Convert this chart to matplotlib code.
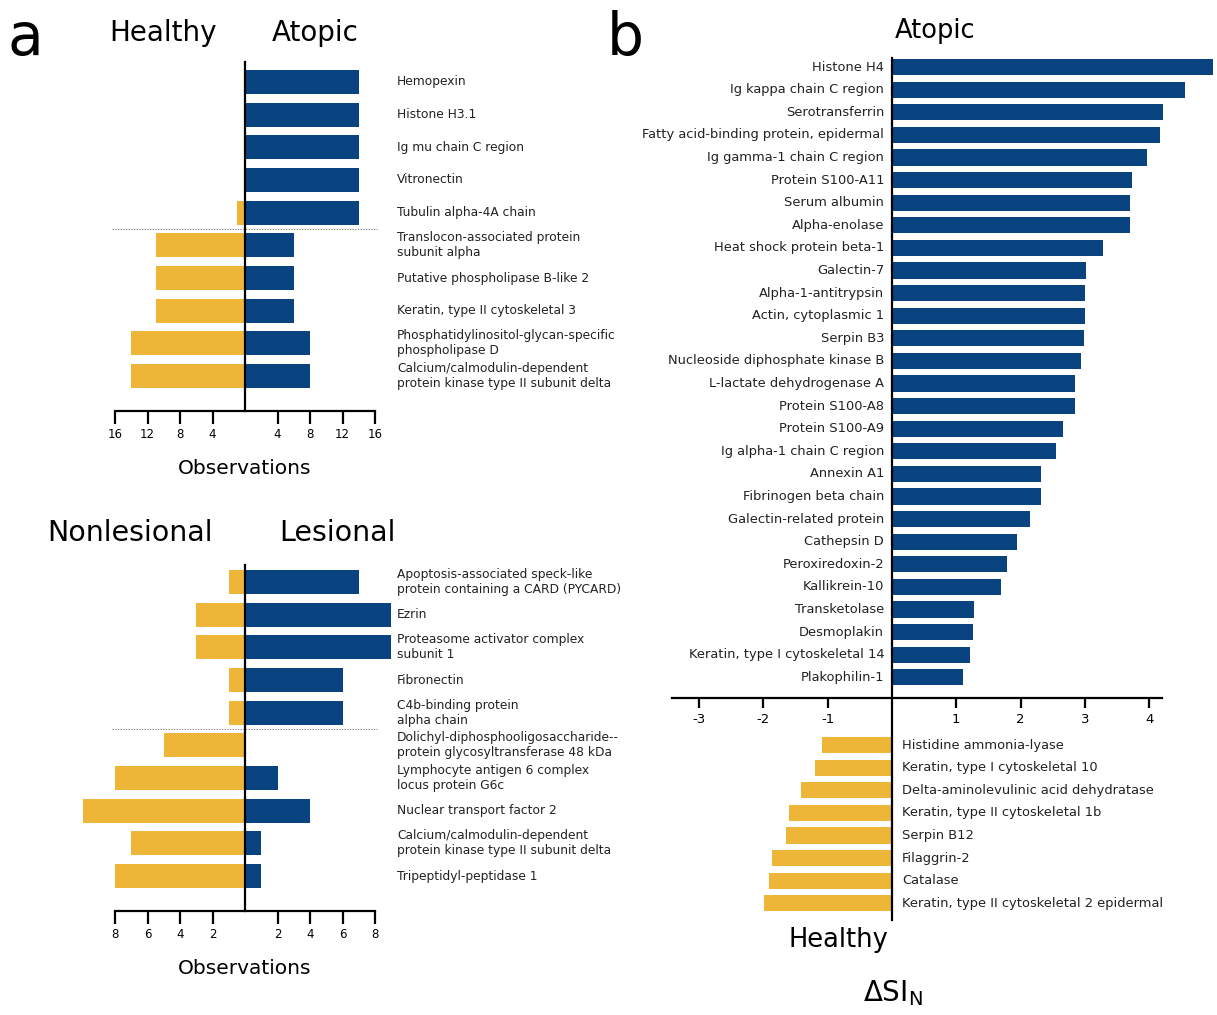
import numpy as np
import matplotlib
matplotlib.use("Agg")
import matplotlib.pyplot as plt

plt.rcParams["axes.unicode_minus"] = False

BLUE = "#0a4480"
YELLOW = "#edb638"

# -----------------------------------------------------------------------
# Data
# -----------------------------------------------------------------------

# panel a, top: Healthy vs Atopic observations
atopic_proteins = [
    "Hemopexin",
    "Histone H3.1",
    "Ig mu chain C region",
    "Vitronectin",
    "Tubulin alpha-4A chain",
    "Translocon-associated protein\nsubunit alpha",
    "Putative phospholipase B-like 2",
    "Keratin, type II cytoskeletal 3",
    "Phosphatidylinositol-glycan-specific\nphospholipase D",
    "Calcium/calmodulin-dependent\nprotein kinase type II subunit delta",
]
healthy_obs = [0, 0, 0, 0, 1, 11, 11, 11, 14, 14]
atopic_obs = [14, 14, 14, 14, 14, 6, 6, 6, 8, 8]

# panel a, bottom: Nonlesional vs Lesional observations
lesional_proteins = [
    "Apoptosis-associated speck-like\nprotein containing a CARD (PYCARD)",
    "Ezrin",
    "Proteasome activator complex\nsubunit 1",
    "Fibronectin",
    "C4b-binding protein\nalpha chain",
    "Dolichyl-diphosphooligosaccharide--\nprotein glycosyltransferase 48 kDa",
    "Lymphocyte antigen 6 complex\nlocus protein G6c",
    "Nuclear transport factor 2",
    "Calcium/calmodulin-dependent\nprotein kinase type II subunit delta",
    "Tripeptidyl-peptidase 1",
]
nonlesional_obs = [1, 3, 3, 1, 1, 5, 8, 10, 7, 8]
lesional_obs = [7, 9, 9, 6, 6, 0, 2, 4, 1, 1]

# panel b: delta SI_N
up_proteins = [
    "Histone H4", "Ig kappa chain C region", "Serotransferrin",
    "Fatty acid-binding protein, epidermal", "Ig gamma-1 chain C region",
    "Protein S100-A11", "Serum albumin", "Alpha-enolase",
    "Heat shock protein beta-1", "Galectin-7", "Alpha-1-antitrypsin",
    "Actin, cytoplasmic 1", "Serpin B3", "Nucleoside diphosphate kinase B",
    "L-lactate dehydrogenase A", "Protein S100-A8", "Protein S100-A9",
    "Ig alpha-1 chain C region", "Annexin A1", "Fibrinogen beta chain",
    "Galectin-related protein", "Cathepsin D", "Peroxiredoxin-2",
    "Kallikrein-10", "Transketolase", "Desmoplakin",
    "Keratin, type I cytoskeletal 14", "Plakophilin-1",
]
up_dsi = [5.0, 4.56, 4.21, 4.17, 3.97, 3.73, 3.70, 3.70, 3.28, 3.02, 3.00,
          3.00, 2.99, 2.94, 2.85, 2.85, 2.66, 2.55, 2.32, 2.32, 2.15, 1.94,
          1.79, 1.70, 1.28, 1.26, 1.21, 1.10]

down_proteins = [
    "Histidine ammonia-lyase", "Keratin, type I cytoskeletal 10",
    "Delta-aminolevulinic acid dehydratase", "Keratin, type II cytoskeletal 1b",
    "Serpin B12", "Filaggrin-2", "Catalase",
    "Keratin, type II cytoskeletal 2 epidermal",
]
down_dsi = [-1.09, -1.20, -1.42, -1.60, -1.65, -1.87, -1.91, -1.99]


# -----------------------------------------------------------------------
# Helpers
# -----------------------------------------------------------------------

def fig_rect(x0, y0, x1, y1, W=1217, H=1015):
    """Pixel box (top-left origin) -> figure fraction rect."""
    return [x0 / W, 1 - y1 / H, (x1 - x0) / W, (y1 - y0) / H]


def butterfly(ax, labels, left, right, lim, ticks, ylim, split=4.5):
    y = np.arange(len(labels))
    ax.barh(y, [-v for v in left], height=0.74, color=YELLOW, clip_on=False)
    ax.barh(y, right, height=0.74, color=BLUE, clip_on=False)
    ax.set_xlim(-lim, lim)
    ax.set_ylim(*ylim)

    for s in ["top", "right"]:
        ax.spines[s].set_visible(False)
    ax.spines["left"].set_position(("data", 0))
    ax.spines["left"].set_linewidth(1.6)
    ax.spines["bottom"].set_linewidth(1.6)
    ax.set_yticks([])
    ax.set_xticks(ticks)
    ax.set_xticklabels([str(abs(t)) for t in ticks])
    ax.tick_params(axis="x", direction="out", length=9, width=1.6,
                   labelsize=8.5, pad=3)

    ax.plot([-lim * 1.025, lim * 1.015], [split, split], color="#888888",
            linestyle=(0, (1.2, 1.2)), linewidth=0.8, clip_on=False)

    for yi, lab in zip(y, labels):
        ax.text(1.085, yi, lab, transform=ax.get_yaxis_transform(),
                ha="left", va="center", fontsize=8.8, color="#222222",
                linespacing=1.2)
    ax.set_xlabel("Observations", fontsize=14.5, labelpad=13)


# -----------------------------------------------------------------------
# Figure
# -----------------------------------------------------------------------

fig = plt.figure(figsize=(12.17, 10.15), dpi=100)

# panel a top
ax1 = fig.add_axes(fig_rect(115, 62, 375, 411))
butterfly(ax1, atopic_proteins, healthy_obs, atopic_obs, 16,
          [-16, -12, -8, -4, 4, 8, 12, 16], (10.07, -0.61))
fig.text(163 / 1217, 1 - 33 / 1015, "Healthy", fontsize=20, ha="center", va="center")
fig.text(315 / 1217, 1 - 33 / 1015, "Atopic", fontsize=20, ha="center", va="center")

# panel a bottom
ax2 = fig.add_axes(fig_rect(115, 565, 375, 911))
butterfly(ax2, lesional_proteins, nonlesional_obs, lesional_obs, 8,
          [-8, -6, -4, -2, 2, 4, 6, 8], (10.07, -0.52))
fig.text(130 / 1217, 1 - 533 / 1015, "Nonlesional", fontsize=20.5, ha="center", va="center")
fig.text(337 / 1217, 1 - 533 / 1015, "Lesional", fontsize=20.5, ha="center", va="center")

# panel b
ax3 = fig.add_axes(fig_rect(672, 58, 1162, 920))
y_up = np.arange(len(up_proteins))
y_down = np.arange(len(down_proteins)) + 30
ax3.barh(y_up, up_dsi, height=0.72, color=BLUE, clip_on=False)
ax3.barh(y_down, down_dsi, height=0.72, color=YELLOW, clip_on=False)
ax3.set_xlim(-3.42, 4.2)
ax3.set_ylim(37.74, -0.4)
for s in ["top", "right"]:
    ax3.spines[s].set_visible(False)
ax3.spines["left"].set_position(("data", 0))
ax3.spines["bottom"].set_position(("data", 27.9))
ax3.spines["left"].set_linewidth(1.6)
ax3.spines["bottom"].set_linewidth(1.6)
ax3.set_yticks([])
ax3.set_xticks([-3, -2, -1, 1, 2, 3, 4])
ax3.tick_params(axis="x", direction="out", length=7, width=1.6,
                labelsize=9.5, pad=4)

for yi, lab in zip(y_up, up_proteins):
    ax3.text(-0.12, yi, lab, ha="right", va="center", fontsize=9.4, color="#222222")
for yi, lab in zip(y_down, down_proteins):
    ax3.text(0.16, yi, lab, ha="left", va="center", fontsize=9.4, color="#222222")

fig.text(935 / 1217, 1 - 31 / 1015, "Atopic", fontsize=18.5, ha="center", va="center")
fig.text(838 / 1217, 1 - 940 / 1015, "Healthy", fontsize=18.5, ha="center", va="center")
fig.text(893 / 1217, 1 - 993 / 1015, r"$\Delta$SI$_\mathregular{N}$", fontsize=20,
         ha="center", va="center")

# panel letters
fig.text(25 / 1217, 1 - 38 / 1015, "a", fontsize=42, ha="center", va="center")
fig.text(625 / 1217, 1 - 38 / 1015, "b", fontsize=42, ha="center", va="center")

plt.savefig("out.png", dpi=100)
plt.close()
